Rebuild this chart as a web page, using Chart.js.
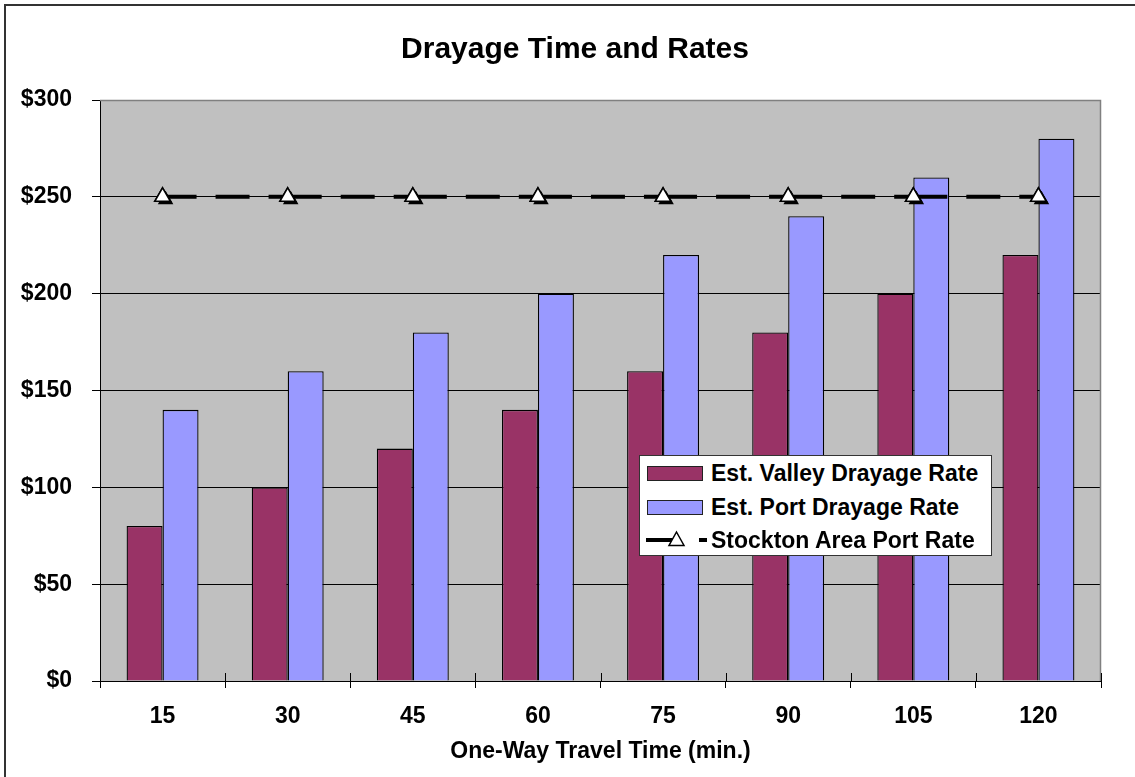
<!DOCTYPE html>
<html>
<head>
<meta charset="utf-8">
<script src="https://cdn.jsdelivr.net/npm/chart.js@4.4.1/dist/chart.umd.min.js"></script>
<style>
  html, body { margin:0; padding:0; background:#fff; overflow:hidden; }
  #wrap { position:relative; width:1135px; height:777px; overflow:hidden; }
  #c { position:absolute; left:0; top:0; }
  #legend { position:absolute; left:639px; top:455px; width:351px; height:99px; border:1px solid #333; background:#fff;
            font: bold 23px 'Liberation Sans', Arial, sans-serif; color:#000; }
  .row { position:absolute; left:0; height:34px; width:100%; }
  .sw { position:absolute; left:7px; top:10px; width:54px; height:13px; border:1px solid #222; }
  .sym { position:absolute; left:0; top:7px; }
  .txt { position:absolute; left:71px; top:0; line-height:34px; white-space:nowrap; }
</style>
</head>
<body>
<div id="wrap">
  <canvas id="c" width="1145" height="777"></canvas>
  <div id="legend"></div>
</div>
<script>
// ---- data ----
const categories = ['15', '30', '45', '60', '75', '90', '105', '120'];
const valleyRates = [80, 100, 120, 140, 160, 180, 200, 220];
const portRates = [140, 160, 180, 200, 220, 240, 260, 280];
const stocktonRates = [250, 250, 250, 250, 250, 250, 250, 250];
const seriesNames = ['Est. Valley Drayage Rate', 'Est. Port Drayage Rate', 'Stockton Area Port Rate'];
const yMin = 0, yMax = 300, yStep = 50;
const chartTitle = 'Drayage Time and Rates';
const xTitle = 'One-Way Travel Time (min.)';

const FONT = "'Liberation Sans', Arial, sans-serif";
Chart.defaults.font.family = FONT;
Chart.defaults.color = '#000';

const bgPlugin = {
  id: 'bgPlugin',
  beforeDraw(chart) {
    const ctx = chart.ctx, a = chart.chartArea;
    ctx.save();
    // outer chart frame
    ctx.strokeStyle = '#333';
    ctx.lineWidth = 2;
    ctx.strokeRect(5, 5, 1200, 900);
    // plot area fill
    ctx.fillStyle = '#C0C0C0';
    ctx.fillRect(a.left, a.top, a.right - a.left, a.bottom - a.top);
    ctx.restore();
  },
  beforeDatasetsDraw(chart) {
    const ctx = chart.ctx, a = chart.chartArea;
    ctx.save();
    ctx.strokeStyle = '#808080';
    ctx.lineWidth = 1.5;
    ctx.beginPath();
    ctx.moveTo(a.left, a.top + 0.5);
    ctx.lineTo(a.right - 0.5, a.top + 0.5);
    ctx.lineTo(a.right - 0.5, a.bottom);
    ctx.stroke();
    // inner part of x-axis cross tick marks
    const xs = chart.scales.x;
    const half = (xs.getPixelForValue(1) - xs.getPixelForValue(0)) / 2;
    ctx.strokeStyle = '#000';
    ctx.lineWidth = 1;
    ctx.beginPath();
    for (let i = 0; i <= categories.length; i++) {
      const x = Math.round(xs.getPixelForValue(i) - half) + 0.5;
      ctx.moveTo(x, a.bottom - 8);
      ctx.lineTo(x, a.bottom);
    }
    ctx.stroke();
    ctx.restore();
  },
  afterDatasetDraw(chart, args) {
    if (args.index !== 2) return;
    const ctx = chart.ctx;
    const meta = chart.getDatasetMeta(2);
    meta.data.forEach(pt => {
      ctx.save();
      ctx.fillStyle = '#000';
      ctx.strokeStyle = '#000';
      Chart.helpers.drawPoint(ctx, { pointStyle: 'triangle', radius: 9, borderWidth: 0, rotation: 0 }, pt.x + 3, pt.y + 3);
      ctx.restore();
      pt.draw(ctx, chart.chartArea);
    });
  }
};

const chart = new Chart(document.getElementById('c'), {
  type: 'bar',
  data: {
    labels: categories,
    datasets: [
      { label: seriesNames[0], data: valleyRates, backgroundColor: '#993366', borderColor: '#000', borderWidth: 1.3,
        categoryPercentage: 0.575, barPercentage: 1, order: 1 },
      { label: seriesNames[1], data: portRates, backgroundColor: '#9999FF', borderColor: '#000', borderWidth: 1.3,
        categoryPercentage: 0.575, barPercentage: 1, order: 1 },
      { label: seriesNames[2], data: stocktonRates, type: 'line', borderColor: '#000', borderWidth: 4,
        borderDash: [34, 19], fill: false, tension: 0, order: 0,
        pointStyle: 'triangle', pointRadius: 9, pointHoverRadius: 9, pointBackgroundColor: '#fff',
        pointBorderColor: '#000', pointBorderWidth: 1.5,
        segment: { borderDashOffset: c => (c.p0DataIndex % 2 ? 0.0001 : 0) } }
    ]
  },
  options: {
    responsive: false,
    devicePixelRatio: 1,
    animation: false,
    events: [],
    layout: { padding: { left: 5, right: 0, top: 12, bottom: 0 } },
    plugins: {
      legend: { display: false },
      tooltip: { enabled: false },
      title: { display: true, text: chartTitle, font: { size: 30, weight: 'bold' }, color: '#000',
               padding: { top: 20, bottom: 32 } }
    },
    scales: {
      x: {
        grid: { drawOnChartArea: false, drawTicks: true, tickLength: 7, color: '#000', lineWidth: 1, offset: true },
        border: { color: '#000', width: 1 },
        ticks: { font: { size: 23, weight: 'bold' }, color: '#000', padding: 15, maxRotation: 0 },
        title: { display: true, text: xTitle, font: { size: 23, weight: 'bold' }, color: '#000', padding: { top: 0, bottom: 12 } },
        afterFit: s => { s.height = 96; }
      },
      y: {
        min: yMin, max: yMax,
        grid: { color: '#000', lineWidth: 1, drawTicks: true, tickLength: 8 },
        border: { color: '#000', width: 1 },
        ticks: { stepSize: yStep, font: { size: 23, weight: 'bold' }, color: '#000', padding: 20,
                 callback: v => '$' + v },
        afterFit: s => { s.width = 95; }
      },
      yRight: {
        position: 'right', display: true, min: 0, max: 1,
        grid: { display: false, drawTicks: false },
        border: { display: false },
        ticks: { display: false },
        afterFit: s => { s.width = 44; }
      }
    }
  },
  plugins: [bgPlugin]
});

// ---- HTML legend built from the datasets ----
const legend = document.getElementById('legend');
chart.data.datasets.forEach((ds, i) => {
  const row = document.createElement('div');
  row.className = 'row';
  row.style.top = (i * 33.5) + 'px';
  if (ds.type === 'line') {
    row.innerHTML = '<svg class="sym" width="70" height="20" viewBox="0 0 70 20">' +
      '<line x1="6" y1="10" x2="67" y2="10" stroke="#000" stroke-width="4" stroke-dasharray="34 19"/>' +
      '<polygon points="36.5,2 44,15.5 29,15.5" fill="#fff" stroke="#000" stroke-width="1.5"/></svg>';
  } else {
    row.innerHTML = '<div class="sw" style="background:' + ds.backgroundColor + '"></div>';
  }
  const t = document.createElement('div');
  t.className = 'txt';
  t.textContent = ds.label;
  row.appendChild(t);
  legend.appendChild(row);
});
</script>
</body>
</html>
